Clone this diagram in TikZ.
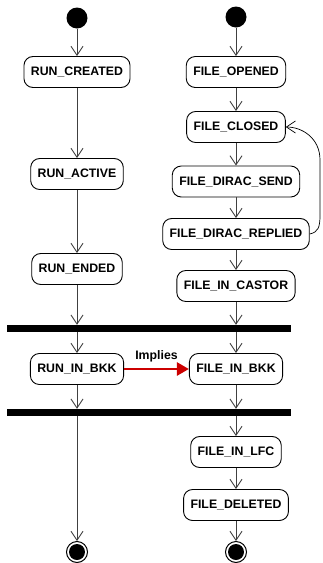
\documentclass[tikz,border=0pt]{standalone}
\usepackage{fontspec}
\setmainfont{Liberation Sans}
\usetikzlibrary{arrows.meta}

\begin{document}
\begin{tikzpicture}[x=1pt, y=-1pt,
  state/.style={draw, line width=0.9pt, rounded corners=9pt, minimum height=31pt, inner xsep=7pt,
    font=\fontsize{12.3}{14}\selectfont\bfseries},
  start/.style={circle, fill=black, minimum size=21pt, inner sep=0pt},
  stop/.style={circle, draw, line width=1pt, minimum size=21pt, inner sep=0pt,
    path picture={\fill (path picture bounding box.center) circle (8pt);}},
  bar/.style={fill=black, minimum width=284pt, minimum height=7pt, inner sep=0pt},
  flow/.style={draw=black!75, line width=0.9pt, -{Straight Barb[length=9pt, width=12pt]}},
  back/.style={draw=black, line width=0.7pt, -{Straight Barb[length=9pt, width=12pt]}},
  implies/.style={draw=red!80!black, line width=2.6pt, -{Triangle[length=12pt, width=13pt]}}]

\useasboundingbox (0,0) rectangle (322,563);

% initial states
\node[start] (s1) at (77,18) {};
\node[start] (s2) at (236,17) {};

% run states
\node[state] (runcreated) at (77,72) {RUN\_CREATED};
\node[state] (runactive) at (77,174) {RUN\_ACTIVE};
\node[state] (runended) at (77,269) {RUN\_ENDED};
\node[state] (runinbkk) at (77,369) {RUN\_IN\_BKK};

% file states
\node[state] (fileopened) at (236,72) {FILE\_OPENED};
\node[state] (fileclosed) at (236,127) {FILE\_CLOSED};
\node[state] (diracsend) at (236,181.5) {FILE\_DIRAC\_SEND};
\node[state] (diracreplied) at (236,234) {FILE\_DIRAC\_REPLIED};
\node[state] (incastor) at (236,286) {FILE\_IN\_CASTOR};
\node[state] (inbkk) at (236,369) {FILE\_IN\_BKK};
\node[state] (inlfc) at (236,452) {FILE\_IN\_LFC};
\node[state] (deleted) at (236,505) {FILE\_DELETED};

% sync bars
\node[bar] (bar1) at (149,328.5) {};
\node[bar] (bar2) at (149,412.5) {};

% final states
\node[stop] (e1) at (77,552) {};
\node[stop] (e2) at (236,552) {};

% run flow
\draw[flow] (s1) -- (runcreated);
\draw[flow] (runcreated) -- (runactive);
\draw[flow] (runactive) -- (runended);
\draw[flow] (runended) -- (runended |- bar1.north);
\draw[flow] (runinbkk |- bar1.south) -- (runinbkk);
\draw[flow] (runinbkk) -- (runinbkk |- bar2.north);
\draw[flow] (e1 |- bar2.south) -- (e1);

% file flow
\draw[flow] (s2) -- (fileopened);
\draw[flow] (fileopened) -- (fileclosed);
\draw[flow] (fileclosed) -- (diracsend);
\draw[flow] (diracsend) -- (diracreplied);
\draw[flow] (diracreplied) -- (incastor);
\draw[flow] (incastor) -- (incastor |- bar1.north);
\draw[flow] (inbkk |- bar1.south) -- (inbkk);
\draw[flow] (inbkk) -- (inbkk |- bar2.north);
\draw[flow] (inlfc |- bar2.south) -- (inlfc);
\draw[flow] (inlfc) -- (deleted);
\draw[flow] (deleted) -- (e2);

% retry loop
\draw[back] (diracreplied.east) .. controls (318,232) and (320,228) .. (320,215)
  -- (320,160) .. controls (320,138) and (302,127) .. (fileclosed.east);

% implication
\draw[implies] (runinbkk) -- (inbkk)
  node[midway, above=2pt, text=black, font=\fontsize{12.3}{14}\selectfont\bfseries] {Implies};
\end{tikzpicture}
\end{document}
